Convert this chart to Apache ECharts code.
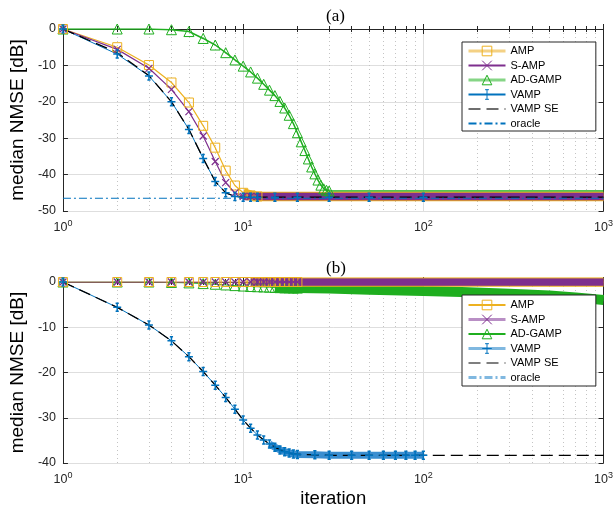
<!DOCTYPE html>
<html>

<head>
    <meta charset="utf-8">
    <title>median NMSE vs iteration</title>
    <script src="https://cdn.jsdelivr.net/npm/echarts@6/dist/echarts.min.js"></script>
</head>
<style>
    html, body {
        margin: 0;
        padding: 0;
        background: #fff;
    }
</style>

<body>
    <div id="main" style="width: 616px;height:512px;"></div>
    <script type="text/javascript">
        // ---- panel (a) ----
        var iterA = [1, 2, 3, 4, 5, 6, 7, 8, 9, 10, 11, 12, 15, 20, 30, 50, 100, 200, 500, 1000];
        var ampA = [0, -5.0, -9.9, -14.7, -20.2, -26.6, -32.6, -38.9, -43.0, -45.0, -45.7, -46.0, -46.0, -46.0, -46.0, -46.0, -46.0, -46.0, -46.0, -46.0];
        var sampA = [0, -5.6, -10.8, -16.6, -22.7, -29.4, -36.4, -42.2, -45.0, -46.0, -46.0, -46.0, -46.0, -46.0, -46.0, -46.0, -46.0, -46.0, -46.0, -46.0];
        var iterGampA = [1, 2, 3, 4, 5, 6, 7, 8, 9, 10, 11, 12, 13, 14, 15, 16, 17, 18, 19, 20, 21, 22, 23, 24, 25, 26, 27, 28, 29, 30, 40, 50, 100, 200, 500, 1000];
        var gampA = [0, 0, 0, -0.2, -0.7, -2.6, -4.4, -6.5, -8.5, -10.2, -11.8, -13.5, -15.2, -16.8, -18.3, -19.9, -21.7, -23.7, -26.0, -28.5,
            -31.0, -33.4, -35.7, -37.9, -39.8, -41.5, -42.9, -43.9, -44.3, -44.5, -44.5, -44.5, -44.5, -44.5, -44.5, -44.5];
        var iterVampA = [1, 2, 3, 4, 5, 6, 7, 8, 9, 10, 11, 12, 15, 20, 30, 50, 100];
        var vampA = [0, -6.9, -12.9, -20.0, -27.6, -35.6, -41.9, -45.0, -46.0, -46.2, -46.2, -46.2, -46.2, -46.2, -46.2, -46.2, -46.2];
        var iterSeA = [1, 2, 3, 4, 5, 6, 7, 8, 9, 10, 11, 12, 15, 20, 30, 50, 100, 200, 500, 1000];
        var seA = [0, -6.5, -12.8, -20.0, -27.6, -35.5, -41.9, -45.0, -46.0, -46.2, -46.2, -46.2, -46.2, -46.2, -46.2, -46.2, -46.2, -46.2, -46.2, -46.2];
        var iterOracleA = [1, 1000];
        var oracleA = [-46.5, -46.5];

        // ---- panel (b) ----
        var iterB = [1, 2, 3, 4, 5, 6, 7, 8, 9, 10, 11, 12, 13, 14, 15, 16, 17, 18, 19, 20, 30, 50, 100, 200, 500, 1000];
        var ampB = [0, 0, 0, 0, 0, 0, 0, 0, 0, 0, 0, 0, 0, 0, 0, 0, 0, 0, 0, 0, 0, 0, 0, 0, 0, 0];
        var sampB = [0, 0, 0, 0, 0, 0, 0, 0, 0, 0, 0, 0, 0, 0, 0, 0, 0, 0, 0, 0, 0, 0, 0, 0, 0, 0];
        var iterGampB = [1, 2, 3, 4, 5, 6, 7, 8, 9, 10, 11, 12, 13, 14, 15, 16, 17, 18, 19, 20, 30, 50, 100, 163, 300, 500, 700, 1000];
        var gampB = [0, 0, 0, -0.1, -0.2, -0.35, -0.5, -0.65, -0.8, -0.9, -1.0, -1.05, -1.1, -1.15, -1.2, -1.25, -1.3, -1.3, -1.35, -1.35,
            -1.45, -1.7, -2.0, -2.2, -2.6, -3.0, -3.4, -4.0];
        var iterVampB = [1, 2, 3, 4, 5, 6, 7, 8, 9, 10, 11, 12, 13, 14, 15, 16, 17, 18, 19, 20, 25, 30, 40, 50, 60, 70, 80, 90, 100];
        var vampB = [0, -5.6, -9.5, -13.0, -16.5, -19.8, -22.8, -25.5, -28.1, -30.5, -32.3, -33.8, -34.9, -35.8, -36.5, -37.1, -37.5, -37.8, -38.0, -38.1,
            -38.2, -38.3, -38.3, -38.3, -38.3, -38.3, -38.3, -38.3, -38.3];
        var iterSeB = [1, 2, 3, 4, 5, 6, 7, 8, 9, 10, 11, 12, 13, 14, 15, 16, 17, 18, 19, 20, 25, 30, 50, 100, 200, 500, 1000];
        var seB = [0, -5.6, -9.5, -13.0, -16.5, -19.8, -22.8, -25.5, -28.1, -30.5, -32.3, -33.8, -34.9, -35.8, -36.5, -37.1, -37.5, -37.8, -38.0, -38.1,
            -38.2, -38.3, -38.3, -38.3, -38.3, -38.3, -38.3];

        var xTicksExp = [0, 1, 2, 3];
        var yTicksA = [-50, -40, -30, -20, -10, 0];
        var yTicksB = [-40, -30, -20, -10, 0];

        var cOrange = '#EDB120', cPurple = '#7E2F8E', cGreen = '#1fae1f', cBlue = '#0072BD';
        var axisCol = '#262626';
        var sans = 'Liberation Sans';

        // pairs [iteration, value]; markers dropped after markMax
        function pts(iters, vals, markMax) {
            return iters.map(function (k, i) {
                var p = { value: [k, vals[i]] };
                if (markMax && k > markMax) p.symbol = 'none';
                return p;
            });
        }
        // the part of a curve from kMin on (where markers pile into a band)
        function tail(iters, vals, kMin) {
            var out = [];
            iters.forEach(function (k, i) { if (k >= kMin) out.push([k, vals[i]]); });
            return out;
        }

        var symX = 'path://M0,0L10,10M10,0L0,10';
        var symErr = 'path://M3,0L7,0M5,0L5,10M3,10L7,10M0,5L10,5';

        function hollow(c, w) {
            return { color: 'rgba(0,0,0,0)', borderColor: c, borderWidth: w || 1 };
        }

        function xAxes(grid, withName) {
            var main = {
                gridIndex: grid, type: 'log', logBase: 10, min: 1, max: 1000,
                axisLine: { lineStyle: { color: axisCol, width: 1 } },
                axisTick: { inside: true, length: 5, lineStyle: { color: axisCol } },
                minorTick: { show: true, splitNumber: 9, length: 3, lineStyle: { color: axisCol } },
                splitLine: { show: true, lineStyle: { color: '#dedede' } },
                minorSplitLine: { show: true, lineStyle: { color: '#c4c4c4', type: [1, 3] } },
                axisLabel: {
                    margin: 8,
                    formatter: function (v) {
                        return '{b|10}{e|' + xTicksExp[Math.round(Math.log10(v))] + '}';
                    },
                    rich: {
                        b: { fontSize: 12.5, color: axisCol, fontFamily: sans },
                        e: { fontSize: 9, color: axisCol, fontFamily: sans, padding: [0, 0, 8, 0] }
                    }
                }
            };
            if (withName) {
                main.name = 'iteration';
                main.nameLocation = 'middle';
                main.nameGap = 26;
                main.nameTextStyle = { fontSize: 18.5, color: '#000', fontFamily: sans };
            }
            var top = {
                gridIndex: grid, type: 'log', logBase: 10, min: 1, max: 1000, position: 'top',
                axisLine: { lineStyle: { color: axisCol, width: 1 } },
                axisTick: { inside: true, length: 5, lineStyle: { color: axisCol } },
                minorTick: { show: true, splitNumber: 9, length: 3, lineStyle: { color: axisCol } },
                axisLabel: { show: false },
                splitLine: { show: false }
            };
            return [main, top];
        }

        function yAxes(grid, ticks) {
            var lo = ticks[0], hi = ticks[ticks.length - 1];
            var left = {
                gridIndex: grid, type: 'value', min: lo, max: hi, interval: 10,
                name: 'median NMSE [dB]', nameLocation: 'middle', nameGap: 30,
                nameTextStyle: { fontSize: 19, color: '#000', fontFamily: sans },
                axisLine: { show: true, lineStyle: { color: axisCol } },
                axisTick: { show: true, inside: true, length: 5, lineStyle: { color: axisCol } },
                axisLabel: { margin: 7, fontSize: 12.5, color: axisCol, fontFamily: sans },
                splitLine: { show: true, lineStyle: { color: '#dedede' } }
            };
            var right = {
                gridIndex: grid, type: 'value', min: lo, max: hi, interval: 10, position: 'right',
                axisLine: { show: true, lineStyle: { color: axisCol } },
                axisTick: { show: true, inside: true, length: 5, lineStyle: { color: axisCol } },
                axisLabel: { show: false },
                splitLine: { show: false }
            };
            return [left, right];
        }

        function line(name, xi, yi, data, o) {
            var s = {
                name: name, type: 'line', xAxisIndex: xi, yAxisIndex: yi, data: data,
                symbol: 'none', symbolSize: 9, silent: true, animation: false,
                lineStyle: { width: 1 }
            };
            for (var k in o) s[k] = o[k];
            return s;
        }

        var series = [
            // (a)
            line('AD-GAMP', 0, 0, pts(iterGampA, gampA, 30), {
                symbol: 'triangle', symbolSize: 10, itemStyle: hollow(cGreen), lineStyle: { color: cGreen, width: 1.5 }
            }),
            line('AMP', 0, 0, pts(iterA, ampA, 12), {
                symbol: 'rect', symbolSize: 9, itemStyle: hollow(cOrange), lineStyle: { color: cOrange, width: 1.2 }
            }),
            line('S-AMP', 0, 0, pts(iterA, sampA, 12), {
                symbol: symX, symbolSize: 7, itemStyle: hollow(cPurple, 1.2), lineStyle: { color: cPurple, width: 1.2 }
            }),
            line('VAMP', 0, 0, pts(iterVampA, vampA), {
                symbol: symErr, symbolSize: 8, itemStyle: hollow(cBlue, 1.5), lineStyle: { color: cBlue, width: 1 }
            }),
            line('', 0, 0, tail(iterA, ampA, 10), { lineStyle: { color: cOrange, width: 9.5 } }),
            line('', 0, 0, tail(iterA, sampA, 10), { lineStyle: { color: cPurple, width: 7.5 } }),
            line('VAMP SE', 0, 0, pts(iterSeA, seA), {
                symbol: 'circle', showSymbol: false, itemStyle: { color: '#000' },
                lineStyle: { color: '#000', width: 1.3, type: [12, 6] }
            }),
            line('oracle', 0, 0, pts(iterOracleA, oracleA), {
                symbol: 'circle', showSymbol: false, itemStyle: { color: cBlue },
                lineStyle: { color: cBlue, width: 1, type: [8, 3, 2, 3] }
            }),

            // (b)
            line('', 2, 2, tail(iterGampB, gampB, 15), { lineStyle: { color: cGreen, width: 10 } }),
            line('AD-GAMP', 2, 2, pts(iterGampB, gampB, 20), {
                symbol: 'triangle', symbolSize: 10, itemStyle: hollow(cGreen), lineStyle: { color: cGreen, width: 1 }
            }),
            line('AMP', 2, 2, pts(iterB, ampB, 20), {
                symbol: 'rect', symbolSize: 9, itemStyle: hollow(cOrange), lineStyle: { color: cOrange, width: 1 }
            }),
            line('S-AMP', 2, 2, pts(iterB, sampB, 20), {
                symbol: symX, symbolSize: 7, itemStyle: hollow(cPurple, 1.2), lineStyle: { color: cPurple, width: 1.2 }
            }),
            line('', 2, 2, tail(iterB, ampB, 11), { lineStyle: { color: cOrange, width: 9.5 } }),
            line('', 2, 2, tail(iterB, sampB, 11), { lineStyle: { color: cPurple, width: 7.5 } }),
            line('VAMP', 2, 2, pts(iterVampB, vampB), {
                symbol: symErr, symbolSize: 8, itemStyle: hollow(cBlue, 1.5), lineStyle: { color: cBlue, width: 1 }
            }),
            line('', 2, 2, tail(iterVampB, vampB, 14), { lineStyle: { color: '#3a8ed0', width: 7 } }),
            line('VAMP SE', 2, 2, pts(iterSeB, seB), {
                symbol: 'circle', showSymbol: false, itemStyle: { color: '#000' },
                lineStyle: { color: '#000', width: 1.3, type: [12, 6] }
            }),
            line('oracle', 2, 2, [], {
                symbol: 'circle', showSymbol: false, itemStyle: { color: cBlue },
                lineStyle: { color: cBlue, width: 1, type: [8, 3, 2, 3] }
            })
        ];

        var noMark = { opacity: 0 };
        var legendA = [
            { name: 'AMP', lineStyle: { color: '#f4d184', width: 3 } },
            { name: 'S-AMP' },
            { name: 'AD-GAMP', lineStyle: { color: '#86d586', width: 3 } },
            { name: 'VAMP' },
            { name: 'VAMP SE', itemStyle: noMark, lineStyle: { color: '#6e6e6e', width: 2 } },
            { name: 'oracle', itemStyle: noMark }
        ];
        var legendB = [
            { name: 'AMP' },
            { name: 'S-AMP', lineStyle: { color: '#b98fc5', width: 3 } },
            { name: 'AD-GAMP' },
            { name: 'VAMP', lineStyle: { color: '#80b8e0', width: 3 } },
            { name: 'VAMP SE', itemStyle: noMark, lineStyle: { color: '#000', width: 1.2 } },
            { name: 'oracle', itemStyle: noMark, lineStyle: { color: '#80b8e0', width: 3 } }
        ];

        function legend(data, top, padTop, padBottom) {
            return {
                data: data, orient: 'vertical', left: 462, top: top,
                itemWidth: 37, itemHeight: 12, itemGap: 2.5,
                padding: [padTop, 34, padBottom, 5],
                backgroundColor: '#fff', borderColor: axisCol, borderWidth: 1, borderRadius: 0,
                selectedMode: false,
                itemStyle: { borderWidth: 1 },
                textStyle: { fontSize: 11, color: '#000', fontFamily: sans, lineHeight: 12 }
            };
        }

        var myChart = echarts.init(document.getElementById('main'));
        var ax = xAxes(0, false).concat(xAxes(1, true));
        var ay = yAxes(0, yTicksA).concat(yAxes(1, yTicksB));
        var option = {
            animation: false,
            title: [
                { text: '(a)', left: 321, top: 3, textStyle: { fontFamily: 'Liberation Serif', fontSize: 17, fontWeight: 'normal', color: '#000' } },
                { text: '(b)', left: 321, top: 255, textStyle: { fontFamily: 'Liberation Serif', fontSize: 17, fontWeight: 'normal', color: '#000' } }
            ],
            grid: [
                { left: 57, top: 29, width: 550, height: 182 },
                { left: 57, top: 282, width: 550, height: 181 }
            ],
            legend: [legend(legendA, 42, 3, 1.5), legend(legendB, 295, 4, 2.5)],
            xAxis: ax,
            yAxis: ay,
            series: series
        };
        myChart.setOption(option);
    </script>
</body>

</html>
